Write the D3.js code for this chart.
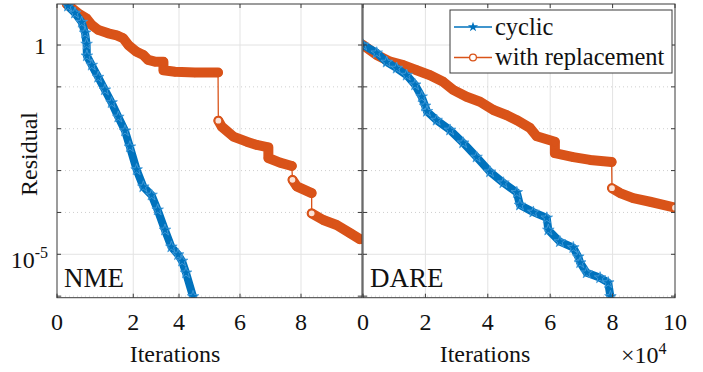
<!DOCTYPE html>
<html lang="en">
<head>
<meta charset="utf-8">
<title>Residual vs iterations</title>
<script type="text/javascript" src="https://d3js.org/d3.v7.min.js"></script>
<style type="text/css">
  body { margin: 0; background: #fff; }
  svg text { font-family: "Liberation Serif", "Times New Roman", serif; fill: #111; }
</style>
</head>
<body>
<svg id="chart" width="703" height="372"></svg>
<script type="text/javascript">
// ---- data (x in units of 10^4 iterations) ----
var nmeCyclicX = [0.36, 0.59, 0.81, 0.92, 0.97, 0.98, 1.14, 1.35, 1.57, 1.79, 2.01, 2.23, 2.39, 2.61, 2.83, 3.10, 3.30, 3.54, 3.75, 3.97, 4.10, 4.23, 4.46];
var nmeCyclicY = [8.5, 5.8, 3.5, 1.95, 1.05, 0.55, 0.33, 0.17, 0.085, 0.042, 0.019, 0.0089, 0.0037, 1.05e-3, 4.1e-4, 2.6e-4, 1.15e-4, 3.8e-5, 1.5e-5, 9.8e-6, 6.9e-6, 3.6e-6, 9.8e-7];

var nmeReplX = [0.32, 0.70, 0.97, 1.14, 1.35, 1.68, 1.96, 2.17, 2.34, 2.61, 2.83, 2.99, 3.21, 3.49, 3.49, 3.87, 4.52, 5.28, 5.29, 5.40, 5.78, 6.22, 6.55, 6.93, 6.93, 7.31, 7.70, 7.72, 7.86, 8.35, 8.35, 8.73, 9.17, 9.61, 9.93];
var nmeReplY = [9.5, 5.7, 4.3, 3.0, 2.3, 1.9, 1.7, 1.45, 1.0, 0.69, 0.58, 0.44, 0.40, 0.40, 0.25, 0.23, 0.22, 0.22, 0.0156, 0.0112, 0.0065, 0.0049, 0.0041, 0.0036, 0.0020, 0.00155, 0.00129, 6.0e-4, 4.2e-4, 2.9e-4, 9.5e-5, 6.6e-5, 5.0e-5, 3.2e-5, 2.3e-5];

var dareCyclicX = [0.0, 0.44, 0.76, 1.08, 1.40, 1.67, 1.88, 1.99, 2.05, 2.36, 2.79, 3.21, 3.64, 4.07, 4.50, 4.93, 5.03, 5.46, 5.89, 5.94, 6.31, 6.74, 6.90, 6.96, 7.17, 7.60, 7.86, 7.93];
var dareCyclicY = [1.0, 0.65, 0.39, 0.28, 0.19, 0.112, 0.058, 0.035, 0.026, 0.016, 0.0093, 0.0046, 0.0021, 9.3e-4, 5.1e-4, 3.0e-4, 1.5e-4, 1.02e-4, 7.4e-5, 3.8e-5, 2.0e-5, 1.45e-5, 8.7e-6, 6.3e-6, 3.6e-6, 2.75e-6, 2.1e-6, 9.8e-7];

var dareReplX = [0.0, 0.44, 0.87, 1.29, 1.72, 2.15, 2.57, 2.89, 3.32, 3.75, 4.18, 4.61, 4.93, 5.35, 5.57, 6.15, 6.15, 6.74, 7.28, 7.97, 7.98, 8.24, 8.66, 9.20, 10.0];
var dareReplY = [1.0, 0.58, 0.40, 0.33, 0.25, 0.19, 0.132, 0.085, 0.058, 0.044, 0.028, 0.021, 0.016, 0.0105, 0.0066, 0.0049, 0.0026, 0.0021, 0.0018, 0.0016, 3.8e-4, 2.9e-4, 2.2e-4, 1.8e-4, 1.3e-4];

var seriesNames = ["cyclic", "with replacement"];
var panelNames = ["NME", "DARE"];
var nmeTickPos = [0, 2.5, 4, 6, 8];
var nmeTickLabels = ["0", "2", "4", "6", "8"];
var dareTicks = [0, 2, 4, 6, 8, 10];
var yDecades = [1e-6, 1e-5, 1e-4, 1e-3, 1e-2, 1e-1, 1];
var yMajor = [1e-5, 1];

// ---- layout ----
var blue = "#0072BD", orange = "#D95319";
var yTop = 4, yBottom = 297.7;
var svg = d3.select("#chart");

var y = d3.scaleLog().domain([Math.pow(10, -6.037), Math.pow(10, 0.98)]).range([yBottom, yTop]);

var panels = [
  { name: panelNames[0], x0: 57, x1: 362, tickPos: nmeTickPos, tickLab: nmeTickLabels,
    cyc: d3.zip(nmeCyclicX, nmeCyclicY), rep: d3.zip(nmeReplX, nmeReplY) },
  { name: panelNames[1], x0: 363, x1: 675, tickPos: dareTicks, tickLab: dareTicks.map(String),
    cyc: d3.zip(dareCyclicX, dareCyclicY), rep: d3.zip(dareReplX, dareReplY) }
];

var star = d3.symbol().type(d3.symbolStar).size(42);
var legendStar = d3.symbol().type(d3.symbolStar).size(32);

function runs(pts, x) {
  // split where the curve drops vertically (thin connector, no marker band)
  var out = [[pts[0]]];
  for (var i = 1; i < pts.length; i++) {
    var dx = Math.abs(x(pts[i][0]) - x(pts[i-1][0]));
    var dy = Math.abs(y(pts[i][1]) - y(pts[i-1][1]));
    if (dx < 2 && dy > 13) out.push([]);
    out[out.length - 1].push(pts[i]);
  }
  return out;
}

panels.forEach(function(p, k) {
  var x = d3.scaleLinear().domain([0, 10]).range([p.x0, p.x1]);
  var g = svg.append("g");
  var clipId = "clip" + k;
  svg.append("clipPath").attr("id", clipId).append("rect")
    .attr("x", p.x0).attr("y", yTop).attr("width", p.x1 - p.x0).attr("height", yBottom - yTop);

  // grid
  g.selectAll(".vg").data(p.tickPos.filter(function(d){ return d > 0 && d < 10; })).enter().append("line")
    .attr("x1", function(d){ return x(d); }).attr("x2", function(d){ return x(d); })
    .attr("y1", yTop).attr("y2", yBottom)
    .attr("stroke", "#e3e3e3").attr("stroke-width", 1);
  g.selectAll(".hg").data(yDecades).enter().append("line")
    .attr("x1", p.x0).attr("x2", p.x1)
    .attr("y1", function(d){ return y(d); }).attr("y2", function(d){ return y(d); })
    .attr("stroke", function(d){ return yMajor.indexOf(d) >= 0 ? "#e3e3e3" : "#cfcfcf"; })
    .attr("stroke-dasharray", function(d){ return yMajor.indexOf(d) >= 0 ? null : "1,3"; })
    .attr("stroke-width", 1);

  var plot = g.append("g").attr("clip-path", "url(#" + clipId + ")");
  var line = d3.line().x(function(d){ return x(d[0]); }).y(function(d){ return y(d[1]); });

  // with replacement
  plot.append("path").datum(p.rep).attr("d", line)
    .attr("fill", "none").attr("stroke", orange).attr("stroke-width", 1.3);
  var rr = runs(p.rep, x);
  rr.forEach(function(r) {
    plot.append("path").datum(r).attr("d", line)
      .attr("fill", "none").attr("stroke", orange).attr("stroke-width", 10)
      .attr("stroke-linecap", "round").attr("stroke-linejoin", "round");
  });
  plot.selectAll(".rm").data(p.rep).enter().append("circle")
    .attr("cx", function(d){ return x(d[0]); }).attr("cy", function(d){ return y(d[1]); })
    .attr("r", 4).attr("fill", "none").attr("stroke", orange).attr("stroke-width", 1.3);
  rr.slice(1).forEach(function(r) {
    plot.append("circle").attr("cx", x(r[0][0])).attr("cy", y(r[0][1]))
      .attr("r", 3.6).attr("fill", "#fbe3d8").attr("stroke", orange).attr("stroke-width", 1.4);
  });
  var last = p.rep[p.rep.length-1];
  if (last[0] >= 9.99) {
    plot.append("circle").attr("cx", x(last[0])).attr("cy", y(last[1]))
      .attr("r", 3.6).attr("fill", "#fbe3d8").attr("stroke", orange).attr("stroke-width", 1.4);
  }

  // cyclic
  plot.append("path").datum(p.cyc).attr("d", line)
    .attr("fill", "none").attr("stroke", blue).attr("stroke-width", 8)
    .attr("stroke-linecap", "round").attr("stroke-linejoin", "round");
  plot.selectAll(".cm").data(p.cyc).enter().append("path")
    .attr("d", star)
    .attr("transform", function(d){ return "translate(" + x(d[0]) + "," + y(d[1]) + ")"; })
    .attr("fill", blue).attr("stroke", "#4a9fdc").attr("stroke-width", 0.8);

  // box and ticks
  g.append("rect").attr("x", p.x0).attr("y", yTop).attr("width", p.x1 - p.x0).attr("height", yBottom - yTop)
    .attr("fill", "none").attr("stroke", "#3a3a3a").attr("stroke-width", 1);
  p.tickPos.forEach(function(d) {
    g.append("line").attr("x1", x(d)).attr("x2", x(d)).attr("y1", yBottom).attr("y2", yBottom - 4)
      .attr("stroke", "#3a3a3a");
    g.append("line").attr("x1", x(d)).attr("x2", x(d)).attr("y1", yTop).attr("y2", yTop + 4)
      .attr("stroke", "#3a3a3a");
  });
  yDecades.forEach(function(d) {
    g.append("line").attr("x1", p.x0).attr("x2", p.x0 + 4).attr("y1", y(d)).attr("y2", y(d)).attr("stroke", "#3a3a3a");
    g.append("line").attr("x1", p.x1).attr("x2", p.x1 - 4).attr("y1", y(d)).attr("y2", y(d)).attr("stroke", "#3a3a3a");
  });

  // tick labels
  g.selectAll(".xl").data(p.tickPos).enter().append("text")
    .attr("x", function(d){ return x(d); }).attr("y", 330)
    .attr("text-anchor", "middle").attr("font-size", 24)
    .text(function(d, i){ return p.tickLab[i]; });

  // panel name
  g.append("text").attr("x", p.x0 + 7).attr("y", 287).attr("font-size", 27).text(p.name);
});

// y tick labels
svg.append("text").attr("x", 46).attr("y", y(1) + 9).attr("text-anchor", "end").attr("font-size", 24).text("1");
var t5 = svg.append("text").attr("x", 48).attr("y", y(1e-5) + 14).attr("text-anchor", "end").attr("font-size", 24);
t5.append("tspan").text("10");
t5.append("tspan").attr("font-size", 16).attr("dy", -10).text("-5");

// axis titles
svg.append("text").attr("x", 175).attr("y", 362).attr("text-anchor", "middle").attr("font-size", 24).text("Iterations");
svg.append("text").attr("x", 485).attr("y", 362).attr("text-anchor", "middle").attr("font-size", 24).text("Iterations");
svg.append("text").attr("transform", "translate(37,154) rotate(-90)").attr("text-anchor", "middle")
  .attr("font-size", 24).text("Residual");
var ex = svg.append("text").attr("x", 621).attr("y", 363).attr("font-size", 24);
ex.append("tspan").text("\u00d710");
ex.append("tspan").attr("font-size", 16).attr("dy", -9).text("4");

// legend
var lg = svg.append("g");
lg.append("rect").attr("x", 450).attr("y", 10).attr("width", 222).attr("height", 63)
  .attr("fill", "#fff").attr("stroke", "#3a3a3a").attr("stroke-width", 1);
[blue, orange].forEach(function(c, i) {
  var ly = [27, 57.5][i];
  lg.append("line").attr("x1", 454).attr("x2", 492).attr("y1", ly).attr("y2", ly)
    .attr("stroke", c).attr("stroke-width", 1.5);
  if (i === 0) {
    lg.append("path").attr("d", legendStar).attr("transform", "translate(473," + ly + ")").attr("fill", blue);
  } else {
    lg.append("circle").attr("cx", 473).attr("cy", ly).attr("r", 3.4)
      .attr("fill", "#fff").attr("stroke", orange).attr("stroke-width", 1.3);
  }
  lg.append("text").attr("x", 495).attr("y", ly + 7.5).attr("font-size", 24.5).text(seriesNames[i]);
});
</script>
</body>
</html>
